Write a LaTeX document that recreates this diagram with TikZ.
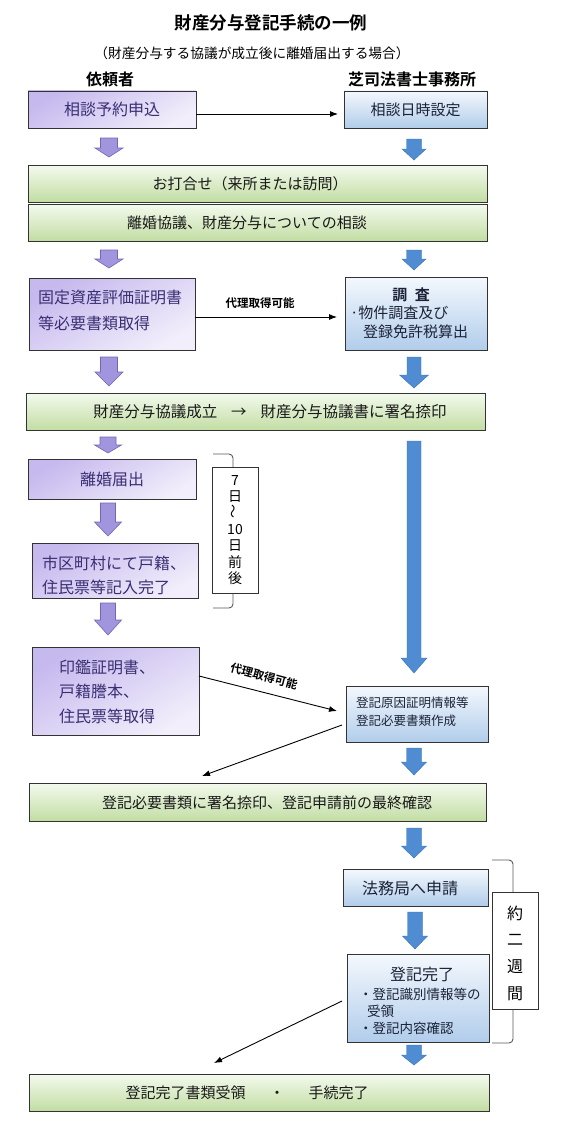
\documentclass[tikz,border=0pt]{standalone}
\usepackage{fontspec}
\setmainfont{Noto Sans CJK JP}[BoldFont={Noto Sans CJK JP Bold}]
\usetikzlibrary{arrows.meta}
\definecolor{purA}{HTML}{C6B9EE}
\definecolor{purB}{HTML}{F2EEFB}
\definecolor{purT}{HTML}{3B2F73}
\definecolor{bluA}{HTML}{F4F8FD}
\definecolor{bluB}{HTML}{B1CDEB}
\definecolor{bluT}{HTML}{1B2238}
\definecolor{grnA}{HTML}{F4FAEE}
\definecolor{grnB}{HTML}{C2DDA3}
\definecolor{parF}{HTML}{A196DD}
\definecolor{parD}{HTML}{7266B6}
\definecolor{barF}{HTML}{4F8CD1}
\definecolor{barD}{HTML}{3B72B6}
\newcommand\fsz[1]{\fontsize{#1}{\dimexpr #1pt*6/5\relax}\selectfont}
\newcommand\blkarrow[7]{%
  \filldraw[#1] ({#2-#6},#3) -- ({#2+#6},#3) -- ({#2+#6},#4) -- ({#2+#7},#4)
    -- (#2,#5) -- ({#2-#7},#4) -- ({#2-#6},#4) -- cycle;}
\tikzset{
  boxbase/.style={draw=black!80, line width=0.9pt, inner sep=0pt, outer sep=0pt},
  purbox/.style={boxbase, top color=purA, bottom color=purB, shading angle=30, text=purT, font=\fsz{16}},
  blubox/.style={boxbase, top color=bluA, bottom color=bluB, text=bluT, font=\fsz{15}},
  grnbox/.style={boxbase, top color=grnA, bottom color=grnB, text=black!90, font=\fsz{15}},
  vbox/.style={boxbase, fill=white},
  txt/.style={inner sep=0pt, outer sep=0pt},
  ptxt/.style={txt, text=purT, font=\fsz{16}, anchor=west},
  btxt/.style={txt, text=bluT, font=\fsz{15}, anchor=west},
  gtxt/.style={txt, text=black!90, font=\fsz{15}},
  small/.style={txt, text=black, font=\bfseries\fsz{11.5}},
  conn/.style={draw=black, line width=0.9pt, -{Latex[length=8pt,width=6pt]}},
  brk/.style={draw=black!65, line width=0.9pt, rounded corners=4pt},
  parrow/.style={fill=parF, draw=parD, line width=0.6pt},
  barrow/.style={fill=barF, draw=barD, line width=0.4pt},
}
\begin{document}
\begin{tikzpicture}[x=1pt,y=-1pt]
\fill[white] (0,0) rectangle (560,1129);
\useasboundingbox (0,0) rectangle (560,1129);

% titles
\node[txt, font=\bfseries\fsz{17.5}] (title) at (271,23) {財産分与登記手続の一例};
\node[txt, font=\fsz{13.7}] (subtitle) at (252,53) {（財産分与する協議が成立後に離婚届出する場合）};
\node[txt, font=\bfseries\fsz{16}] (hleft) at (110,79) {依頼者};
\node[txt, font=\bfseries\fsz{16}] (hright) at (412,79) {芝司法書士事務所};

% row 1
\node[purbox, minimum width=168, minimum height=37] (n1) at (112,109.5) {相談予約申込};
\node[blubox, minimum width=143, minimum height=37] (n2) at (415.5,109.5) {相談日時設定};
\draw[conn] ([yshift=-4.5pt]n1.east) -- ([xshift=-6pt,yshift=-4.5pt]n2.west);

\blkarrow{parrow}{109}{138}{148}{157}{8.5}{14}
\blkarrow{barrow}{414}{139}{149}{160}{7.5}{12}

% green 1,2
\node[grnbox, minimum width=459, minimum height=37] (g1) at (257.5,183.5) {};
\node[gtxt] (g1t) at (250,183.5) {お打合せ（来所または訪問）};
\node[grnbox, minimum width=459, minimum height=37] (g2) at (257.5,222.5) {};
\node[gtxt] (g2t) at (247,222.5) {離婚協議、財産分与についての相談};

\blkarrow{parrow}{109}{250}{259}{268}{8.5}{14}
\blkarrow{barrow}{414}{250}{259}{270}{7.5}{12}

% row 3
\node[purbox, minimum width=166, minimum height=72] (n3) at (112,314) {};
\node[ptxt] (n3a) at (38,297) {固定資産評価証明書};
\node[ptxt] (n3b) at (38,323) {等必要書類取得};
\node[blubox, minimum width=142, minimum height=73] (n4) at (416,313.5) {};
\node[txt, text=bluT, font=\bfseries\fsz{15}] (n4a) at (411,295) {調\hspace{0.5em}査};
\node[btxt] (n4b) at (350,313) {·物件調査及び};
\node[btxt] (n4c) at (363,332) {登録免許税算出};
\draw[conn] ([yshift=-3pt]n3.east) -- ([xshift=-8pt,yshift=-3.5pt]n4.west);
\node[small] (lab1) at (260,303) {代理取得可能};

\blkarrow{parrow}{109}{357}{372}{386}{8.5}{14}
\blkarrow{barrow}{414}{357}{375}{388}{7}{14.5}

% green 3
\node[grnbox, minimum width=459, minimum height=37] (g3) at (255.5,411.5) {};
\node[gtxt, font=\fsz{15.5}] (g3t) at (270,412) {財産分与協議成立\hspace{0.9em}→\hspace{0.9em}財産分与協議書に署名捺印};

% left column
\blkarrow{parrow}{108}{437}{445}{453}{8}{13.5}
\node[purbox, minimum width=168, minimum height=40] (n5) at (112,479) {離婚届出};
\blkarrow{parrow}{108}{503}{522}{536}{7.5}{13.5}
\node[purbox, minimum width=166, minimum height=55] (n6) at (115,570.5) {};
\node[ptxt] (n6a) at (42,563) {市区町村にて戸籍、};
\node[ptxt] (n6b) at (42,587) {住民票等記入完了};
\blkarrow{parrow}{108}{603}{620}{635}{7.5}{13.5}

% bracket 7-10 days
\draw[brk] (213,454) -- (233,454) -- (233,608) -- (213,608);
\node[vbox, minimum width=46, minimum height=126] (v1) at (235,530) {};
\node[txt, align=center, font=\fontsize{14}{16.3}\selectfont] (v1t) at (235,530)
  {7\\日\\\rotatebox{90}{～}\\10\\日\\前\\後};

% long blue arrow
\blkarrow{barrow}{414}{441}{658}{673}{7}{13}

% row 印鑑
\node[purbox, minimum width=167, minimum height=88] (n7) at (115.5,691) {};
\node[ptxt] (n7a) at (59,667) {印鑑証明書、};
\node[ptxt] (n7b) at (59,691.5) {戸籍謄本、};
\node[ptxt] (n7c) at (59,716) {住民票等取得};
\node[blubox, minimum width=142, minimum height=56] (n8) at (417,714) {};
\node[btxt, font=\fsz{12.5}] (n8a) at (356,703) {登記原因証明情報等};
\node[btxt, font=\fsz{12.5}] (n8b) at (356,721) {登記必要書類作成};
\draw[conn] ([yshift=15pt]n7.east) -- ([xshift=-9pt,yshift=3pt]n8.west);
\node[small, rotate=-15] (lab2) at (264,676) {代理取得可能};
\coordinate (c1) at (202,776);
\draw[conn] ([xshift=-4pt,yshift=-11pt]n8.west) -- (c1);

\blkarrow{barrow}{414}{748}{762}{775}{7.5}{12.5}

% green 4
\node[grnbox, minimum width=457, minimum height=38] (g4) at (257.5,802) {};
\node[gtxt] (g4t) at (267,803) {登記必要書類に署名捺印、登記申請前の最終確認};

\blkarrow{barrow}{414}{828}{846}{858}{7.5}{12.5}

% 法務局
\node[blubox, font=\fsz{16}, minimum width=145, minimum height=37] (n9) at (415.5,887.5) {};
\node[txt, text=bluT, font=\fsz{16}] (n9t) at (410,888) {法務局へ申請};
\blkarrow{barrow}{415}{912}{936}{949}{7.5}{12.5}
\node[blubox, minimum width=142, minimum height=88] (n10) at (418,998) {};
\node[txt, text=bluT, font=\fsz{16}] (n10a) at (422,974) {登記完了};
\node[btxt, font=\fsz{13.5}] (n10b) at (359,994) {・登記識別情報等の};
\node[btxt, font=\fsz{13.5}] (n10c) at (367,1011) {受領};
\node[btxt, font=\fsz{13.5}] (n10d) at (359,1028) {・登記内容確認};

% bracket 2 weeks
\draw[brk] (492,860) -- (513,860) -- (513,1043) -- (492,1043);
\node[vbox, minimum width=46, minimum height=117] (v2) at (515,950.5) {};
\node[txt, align=center, font=\fontsize{16}{26.7}\selectfont] (v2t) at (515,953)
  {約\\二\\週\\間};

\blkarrow{barrow}{414}{1045}{1055}{1065}{7.5}{12.5}
\coordinate (c2) at (214,1063);
\draw[conn] ([xshift=-5pt,yshift=-3pt]n10.west) -- (c2);

% green 5
\node[grnbox, minimum width=460, minimum height=37] (g5) at (259,1092.5) {};
\node[gtxt] (g5t) at (247,1093) {登記完了書類受領\hspace{1.6em}・\hspace{1.6em}手続完了};
\end{tikzpicture}
\end{document}
